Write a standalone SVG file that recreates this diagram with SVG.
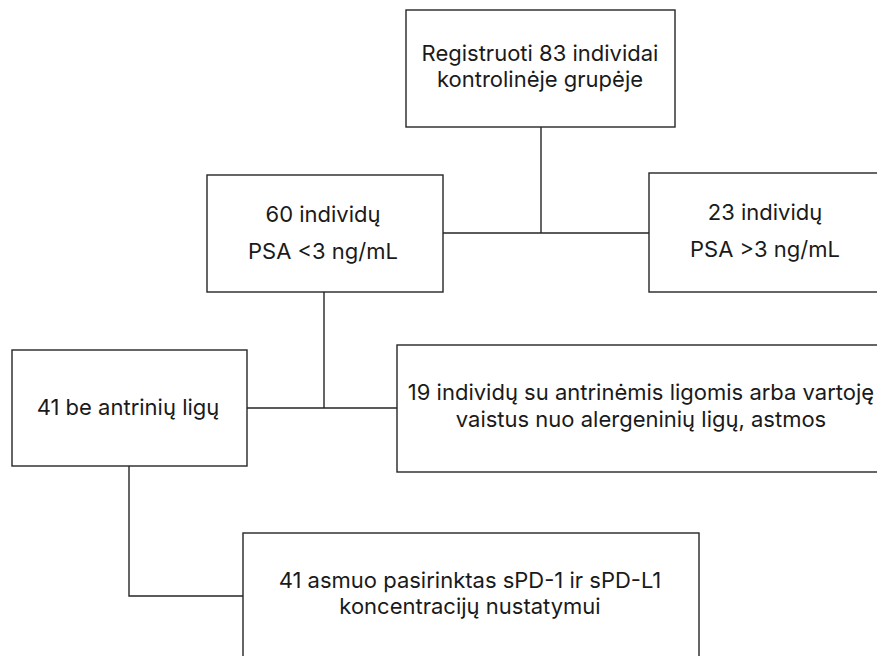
<svg xmlns="http://www.w3.org/2000/svg" width="877" height="656" viewBox="0 0 877 656">
<style>
.box{fill:#fff;stroke:#262626;stroke-width:1.4}
.conn{fill:none;stroke:#262626;stroke-width:1.4}
text{font-family:Inter,"Liberation Sans",sans-serif;font-size:22px;fill:#1a1a1a;text-anchor:middle}
</style>
<rect width="877" height="656" fill="#fff"/>
<g id="connectors">
<path class="conn" d="M541 127V233M443 233H649"/>
<path class="conn" d="M324 292V408M247 408H397"/>
<path class="conn" d="M129 466V596H243"/>
</g>
<g id="n-registered">
<rect class="box" x="406" y="10" width="269" height="117"/>
<text x="540" y="61">Registruoti 83 individai</text>
<text x="540" y="87">kontrolinėje grupėje</text>
</g>
<g id="n-psa-low">
<rect class="box" x="207" y="175" width="236" height="117"/>
<text x="323" y="222">60 individų</text>
<text x="323" y="259">PSA &lt;3 ng/mL</text>
</g>
<g id="n-psa-high">
<rect class="box" x="649" y="173" width="240" height="119"/>
<text x="765" y="220">23 individų</text>
<text x="765" y="257">PSA &gt;3 ng/mL</text>
</g>
<g id="n-no-secondary">
<rect class="box" x="12" y="350" width="235" height="116"/>
<text x="128" y="415">41 be antrinių ligų</text>
</g>
<g id="n-secondary">
<rect class="box" x="397" y="345" width="492" height="127"/>
<text x="641" y="400">19 individų su antrinėmis ligomis arba vartoję</text>
<text x="641" y="427">vaistus nuo alergeninių ligų, astmos</text>
</g>
<g id="n-selected">
<rect class="box" x="243" y="533" width="456" height="140"/>
<text x="470" y="588">41 asmuo pasirinktas sPD-1 ir sPD-L1</text>
<text x="470" y="614">koncentracijų nustatymui</text>
</g>
</svg>
